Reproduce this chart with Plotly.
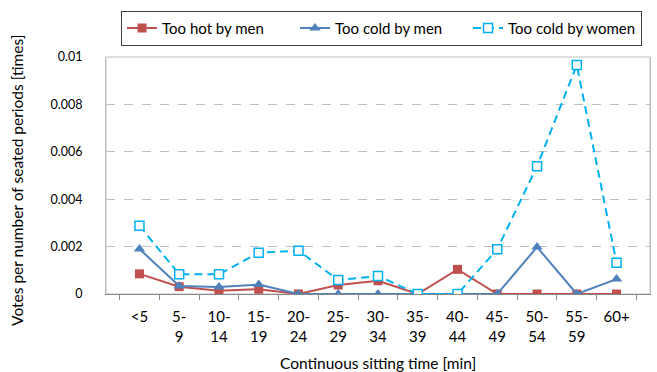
import plotly.graph_objects as go

# Continuous sitting time bins (two-line tick labels)
categories = ["&lt;5", "5-<br>9", "10-<br>14", "15-<br>19", "20-<br>24", "25-<br>29",
              "30-<br>34", "35-<br>39", "40-<br>44", "45-<br>49", "50-<br>54",
              "55-<br>59", "60+"]

too_hot_men = [0.00085, 0.00031, 0.00014, 0.00020, 0.0, 0.00038,
               0.00056, 0.0, 0.00104, 0.0, 0.0, 0.0, 0.0]
too_cold_men = [0.00190, 0.00034, 0.00030, 0.00040, 0.0, 0.0,
                0.0, 0.0, 0.0, 0.0, 0.00198, 0.0, 0.00063]
too_cold_women = [0.00288, 0.00083, 0.00083, 0.00174, 0.00183, 0.00059,
                  0.00076, 0.0, 0.0, 0.00189, 0.00539, 0.00966, 0.00132]

y_ticks = [0, 0.002, 0.004, 0.006, 0.008, 0.01]
y_tick_labels = ["0", "0.002", "0.004", "0.006", "0.008", "0.01"]

FONT = "Lato, 'Open Sans', sans-serif"
GRID = "#BFBFBF"

fig = go.Figure()
fig.add_trace(go.Scatter(
    x=categories, y=too_hot_men, name="Too hot by men", mode="lines+markers",
    line=dict(color="#C0504D", width=2),
    marker=dict(symbol="square", size=9, color="#C0504D")))
fig.add_trace(go.Scatter(
    x=categories, y=too_cold_men, name="Too cold by men", mode="lines+markers",
    line=dict(color="#4F81BD", width=2),
    marker=dict(symbol="triangle-up", size=10, color="#4F81BD")))
fig.add_trace(go.Scatter(
    x=categories, y=too_cold_women, name="Too cold by women", mode="lines+markers",
    line=dict(color="#00B0F0", width=2, dash="8px,5px"),
    marker=dict(symbol="square", size=9, color="white",
                line=dict(color="#00B0F0", width=1.5))))

fig.update_layout(
    width=657, height=372,
    margin=dict(l=106, r=7, t=57, b=78),
    plot_bgcolor="white", paper_bgcolor="white",
    font=dict(family=FONT, size=14, color="black"),
    showlegend=True,
    legend=dict(orientation="h", x=0.0276, xanchor="left", y=1.195, yanchor="top",
                bordercolor="#404040", borderwidth=1, bgcolor="white",
                font=dict(size=15), entrywidth=128, itemwidth=30),
    xaxis=dict(type="category", tickson="boundaries", ticks="outside", ticklen=5,
               tickcolor="#888888", showline=True, linecolor="#888888", linewidth=1,
               showgrid=False, automargin=False, ticklabelstandoff=9,
               tickfont=dict(size=15)),
    yaxis=dict(range=[0, 0.01], tickvals=y_ticks, ticktext=y_tick_labels,
               showgrid=True, gridcolor=GRID, griddash="dash", gridwidth=1,
               showline=True, linecolor=GRID, mirror=True, zeroline=False,
               ticks="", tickfont=dict(size=12.5), automargin=False,
               ticklabelstandoff=20),
    annotations=[
        dict(text="Continuous sitting time [min]", xref="paper", yref="paper",
             x=0.5, y=-0.29, xanchor="center", yanchor="middle",
             showarrow=False, font=dict(size=15.5)),
        dict(text="Votes per number of seated periods [times]", xref="paper",
             yref="paper", x=-0.1636, y=0.477, xanchor="center", yanchor="middle",
             textangle=-90, showarrow=False, font=dict(size=15.5)),
    ],
)

# Light border around the plot area
fig.add_shape(type="rect", xref="paper", yref="paper", x0=0, y0=0, x1=1, y1=1,
              line=dict(color=GRID, width=1), layer="below")

fig.write_html("out.html")
